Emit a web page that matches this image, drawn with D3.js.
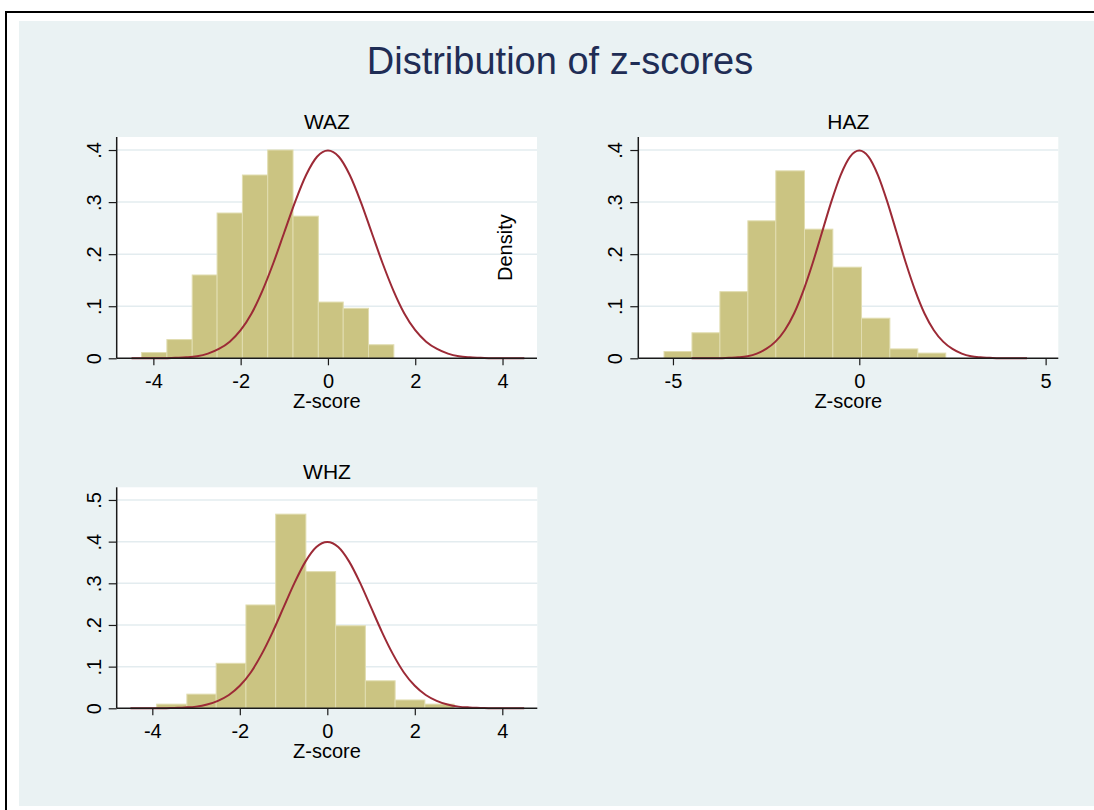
<!DOCTYPE html>
<html>
<head>
<meta charset="utf-8">
<script src="https://cdn.jsdelivr.net/npm/d3@7"></script>
<style>
  html, body { margin: 0; padding: 0; background: #ffffff; overflow: hidden; }
  svg { display: block; }
  text { font-family: "Liberation Sans", Arial, sans-serif; }
</style>
</head>
<body>
<svg id="chart" width="1094" height="810"></svg>
<script>
// ---------- DATA ----------
const mainTitle = "Distribution of z-scores";
const panelNames = ["WAZ", "HAZ", "WHZ"];
const xAxisTitle = "Z-score";
const yAxisTitle = "Density";

// histogram bin edges (z-score) and densities
const wazEdges = [-4.27, -3.69, -3.11, -2.54, -1.96, -1.38, -0.80, -0.22, 0.35, 0.93, 1.51];
const wazDensity = [0.011, 0.036, 0.160, 0.279, 0.352, 0.400, 0.273, 0.108, 0.096, 0.026];

const hazEdges = [-5.24, -4.49, -3.74, -2.99, -2.24, -1.47, -0.71, 0.06, 0.82, 1.57, 2.32];
const hazDensity = [0.013, 0.049, 0.128, 0.264, 0.360, 0.248, 0.175, 0.077, 0.018, 0.010];

const whzEdges = [-3.90, -3.21, -2.54, -1.86, -1.18, -0.49, 0.19, 0.87, 1.55, 2.23, 2.90];
const whzDensity = [0.010, 0.034, 0.108, 0.248, 0.466, 0.328, 0.198, 0.066, 0.020, 0.010];

// reference normal curve
const curveX = [-4.5, -4.25, -4, -3.75, -3.5, -3.25, -3, -2.75, -2.5, -2.25, -2, -1.75, -1.5, -1.25, -1, -0.75, -0.5, -0.25, 0,
                0.25, 0.5, 0.75, 1, 1.25, 1.5, 1.75, 2, 2.25, 2.5, 2.75, 3, 3.25, 3.5, 3.75, 4, 4.25, 4.5];
const curveY = [0, 0, 0, 0, 0.001, 0.002, 0.004, 0.009, 0.018, 0.032, 0.054, 0.086, 0.130, 0.183, 0.242, 0.301, 0.352, 0.387, 0.399,
                0.387, 0.352, 0.301, 0.242, 0.183, 0.130, 0.086, 0.054, 0.032, 0.018, 0.009, 0.004, 0.002, 0.001, 0, 0, 0, 0];

// ticks
const wazXTicks = [-4, -2, 0, 2, 4];
const hazXTicks = [-5, 0, 5];
const whzXTicks = [-4, -2, 0, 2, 4];
const yTicks4 = [0, 0.1, 0.2, 0.3, 0.4];
const yTicks5 = [0, 0.1, 0.2, 0.3, 0.4, 0.5];
const yTickLabels = {0: "0", 0.1: ".1", 0.2: ".2", 0.3: ".3", 0.4: ".4", 0.5: ".5"};

// ---------- LAYOUT / STYLE ----------
const C = {
  bg: "#eaf2f3",
  plotBg: "#ffffff",
  grid: "#e3ecef",
  bar: "#cbc482",
  barEdge: "#e1ddb0",
  curve: "#9c2a36",
  axis: "#1a1a1a",
  text: "#000000",
  title: "#1f2d55"
};
const FONT = '"Liberation Sans", Arial, sans-serif';

const panels = [
  {name: panelNames[0], edges: wazEdges, dens: wazDensity, xTicks: wazXTicks, yTicks: yTicks4,
   box: {x0: 116.7, x1: 537, y0: 137, y1: 358.3}, xDom: [-4.84, 4.79], yDom: [0, 0.425], showYTitle: true},
  {name: panelNames[1], edges: hazEdges, dens: hazDensity, xTicks: hazXTicks, yTicks: yTicks4,
   box: {x0: 638.3, x1: 1058.3, y0: 137, y1: 358.3}, xDom: [-5.93, 5.34], yDom: [0, 0.425], showYTitle: false},
  {name: panelNames[2], edges: whzEdges, dens: whzDensity, xTicks: whzXTicks, yTicks: yTicks5,
   box: {x0: 116.7, x1: 537.3, y0: 487.3, y1: 708.3}, xDom: [-4.814, 4.8], yDom: [0, 0.5304], showYTitle: false}
];

const svg = d3.select("#chart");

// graph region and outer frame (left and top edges visible only)
svg.append("rect").attr("x", 19).attr("y", 21).attr("width", 1075).attr("height", 785)
  .attr("fill", C.bg);
svg.append("path").attr("d", "M6,810V12H1094")
  .attr("fill", "none").attr("stroke", "#000").attr("stroke-width", 2);

// main title
svg.append("text").attr("x", 560).attr("y", 74).attr("text-anchor", "middle")
  .attr("font-size", 38).attr("fill", C.title).text(mainTitle);

panels.forEach(p => {
  const b = p.box;
  const x = d3.scaleLinear().domain(p.xDom).range([b.x0, b.x1]);
  const y = d3.scaleLinear().domain(p.yDom).range([b.y1, b.y0]);
  const g = svg.append("g");

  // plot region
  g.append("rect").attr("x", b.x0).attr("y", b.y0).attr("width", b.x1 - b.x0).attr("height", b.y1 - b.y0)
    .attr("fill", C.plotBg);

  // gridlines
  g.append("g").selectAll("line").data(p.yTicks.filter(t => t > 0)).join("line")
    .attr("x1", b.x0).attr("x2", b.x1)
    .attr("y1", d => y(d)).attr("y2", d => y(d))
    .attr("stroke", C.grid).attr("stroke-width", 1.5);

  // bars
  const bins = p.dens.map((d, i) => ({x0: p.edges[i], x1: p.edges[i + 1], v: d}));
  g.append("g").selectAll("rect").data(bins).join("rect")
    .attr("x", d => x(d.x0)).attr("width", d => x(d.x1) - x(d.x0))
    .attr("y", d => y(d.v)).attr("height", d => y(0) - y(d.v))
    .attr("fill", C.bar).attr("stroke", C.barEdge).attr("stroke-width", 1);

  // normal curve
  const pts = curveX.map((v, i) => [v, curveY[i]]);
  g.append("path").datum(pts)
    .attr("d", d3.line().x(d => x(d[0])).y(d => y(d[1])).curve(d3.curveMonotoneX))
    .attr("fill", "none").attr("stroke", C.curve).attr("stroke-width", 2);

  // x axis
  const xAxis = d3.axisBottom(x).tickValues(p.xTicks).tickSize(7).tickFormat(d => String(d));
  const xa = g.append("g").attr("transform", `translate(0,${b.y1})`).call(xAxis);
  xa.select(".domain").attr("d", `M${b.x0},0H${b.x1}`).attr("stroke", C.axis).attr("stroke-width", 1.5);
  xa.selectAll(".tick line").attr("stroke", C.axis).attr("stroke-width", 1.2);
  xa.selectAll(".tick text").attr("font-size", 20).attr("fill", C.text)
    .attr("font-family", FONT).attr("dy", null).attr("y", 30);

  // y axis
  const yAxis = d3.axisLeft(y).tickValues(p.yTicks).tickSize(8).tickFormat(d => yTickLabels[d]);
  const ya = g.append("g").attr("transform", `translate(${b.x0},0)`).call(yAxis);
  ya.select(".domain").attr("d", `M0,${b.y0}V${b.y1}`).attr("stroke", C.axis).attr("stroke-width", 1.5);
  ya.selectAll(".tick line").attr("stroke", C.axis).attr("stroke-width", 1.2);
  ya.selectAll(".tick text").attr("font-size", 20).attr("fill", C.text)
    .attr("font-family", FONT)
    .attr("x", null).attr("dy", null).attr("text-anchor", "middle")
    .attr("transform", "translate(-16,0) rotate(-90)");

  // panel title
  g.append("text").attr("x", (b.x0 + b.x1) / 2).attr("y", b.y0 - 8).attr("text-anchor", "middle")
    .attr("font-size", 21).attr("fill", C.text).text(p.name);

  // x axis title
  g.append("text").attr("x", (b.x0 + b.x1) / 2).attr("y", b.y1 + 50).attr("text-anchor", "middle")
    .attr("font-size", 20).attr("fill", C.text).text(xAxisTitle);

  // y axis title (drawn inside the first panel as in the original)
  if (p.showYTitle) {
    g.append("text").attr("transform", `translate(512,${(b.y0 + b.y1) / 2}) rotate(-90)`)
      .attr("text-anchor", "middle").attr("font-size", 20).attr("fill", C.text).text(yAxisTitle);
  }
});
</script>
</body>
</html>
